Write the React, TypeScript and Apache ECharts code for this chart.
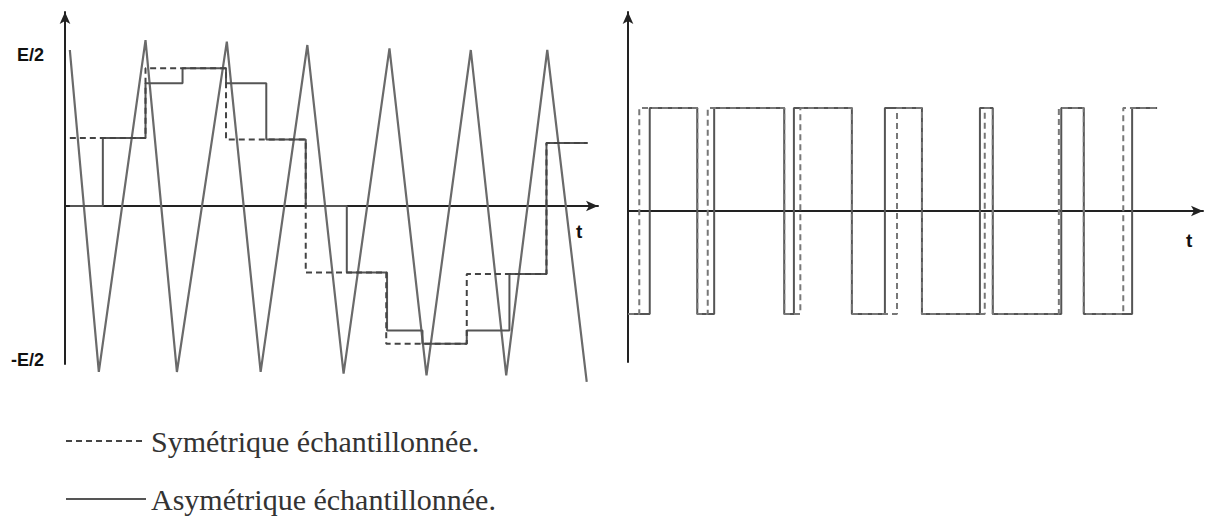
import React, { useEffect, useRef } from "react";
import * as echarts from "echarts";

// ---- Left panel: triangular carrier (t in carrier periods, value in units of E/2-ish) ----
const carrierT = [0.06, 0.42, 1.0, 1.39, 2.01, 2.43, 3.01, 3.46, 4.03, 4.49, 5.04, 5.48, 5.99, 6.48];
const carrierV = [0.94, -1.0, 1.0, -1.0, 0.99, -1.0, 0.97, -1.01, 0.95, -1.02, 0.94, -1.02, 0.94, -1.06];

// Symmetric sampled reference (dashed) – level starting at each t
const symT = [0.06, 1.0, 2.0, 2.99, 3.99, 4.99, 5.98, 6.49];
const symV = [0.41, 0.83, 0.4, -0.4, -0.83, -0.41, 0.38, 0.38];

// Asymmetric sampled reference (solid)
const asymT = [0.06, 0.47, 1.0, 1.46, 2.0, 2.5, 2.99, 3.5, 4.0, 4.44, 4.99, 5.52, 5.98, 6.49];
const asymV = [0, 0.41, 0.74, 0.83, 0.74, 0.4, 0, -0.4, -0.75, -0.83, -0.75, -0.41, 0.38, 0.38];

// ---- Right panel: PWM outputs ----
const pwmAsymT = [0, 0.27, 0.86, 1.07, 1.94, 2.06, 2.78, 3.19, 3.65, 4.37, 4.53, 5.38, 5.66, 6.26, 6.57];
const pwmAsymV = [-1, 1, -1, 1, -1, 1, -1, 1, -1, 1, -1, 1, -1, 1, 1];
const pwmSymT = [0, 0.14, 0.86, 0.99, 1.94, 2.14, 2.78, 3.34, 3.65, 4.43, 4.53, 5.35, 5.66, 6.15, 6.57];
const pwmSymV = [-1, 1, -1, 1, -1, 1, -1, 1, -1, 1, -1, 1, -1, 1, 1];

// Y tick labels of the left panel
const yTickValues = [0.91, -0.93];
const yTickLabels = ["E/2", "-E/2"];

const SYM = "Symétrique échantillonnée.";
const ASYM = "Asymétrique échantillonnée.";

const zip = (a: number[], b: number[]) => a.map((v, i) => [v, b[i]]);

export default function App() {
  const ref = useRef<HTMLDivElement>(null);
  useEffect(() => {
    if (!ref.current) return;
    const chart = echarts.init(ref.current, null, { renderer: "svg" });
    const axisColor = "#222";
    const xAxisCommon = {
      type: "value",
      min: 0,
      axisLine: {
        show: true,
        onZero: true,
        symbol: ["none", "arrow"],
        symbolSize: [8, 12],
        lineStyle: { color: axisColor, width: 2 },
      },
      axisTick: { show: false },
      axisLabel: { show: false },
      splitLine: { show: false },
      name: "t",
      nameLocation: "end",
      nameTextStyle: {
        fontFamily: "Liberation Sans",
        fontWeight: "bold",
        fontSize: 19,
        color: "#111",
        verticalAlign: "top",
      },
    };
    const yAxisCommon = {
      type: "value",
      axisLine: {
        show: true,
        onZero: false,
        symbol: ["none", "arrow"],
        symbolSize: [8, 12],
        lineStyle: { color: axisColor, width: 2 },
      },
      axisTick: { show: false },
      splitLine: { show: false },
    };
    const stepLine = (color: string, dashed: boolean) => ({
      color,
      width: 2,
      type: dashed ? [6, 4] : "solid",
    });
    chart.setOption({
      animation: false,
      backgroundColor: "#fff",
      grid: [
        { left: 65, top: 12, width: 533, height: 352 },
        { left: 628, top: 12, width: 575, height: 350 },
      ],
      xAxis: [
        { ...xAxisCommon, gridIndex: 0, max: 6.62, nameGap: -22, nameTextStyle: { ...xAxisCommon.nameTextStyle, padding: [16, 0, 0, 0] } },
        { ...xAxisCommon, gridIndex: 1, max: 7.14, nameGap: -17, nameTextStyle: { ...xAxisCommon.nameTextStyle, padding: [20, 0, 0, 0] } },
      ],
      yAxis: [
        {
          ...yAxisCommon,
          gridIndex: 0,
          min: -0.952,
          max: 1.169,
          axisLabel: {
            show: true,
            customValues: yTickValues,
            margin: 21,
            fontFamily: "Liberation Sans",
            fontWeight: "bold",
            fontSize: 18,
            color: "#111",
            formatter: (v: number) => {
              const i = yTickValues.findIndex((x) => Math.abs(x - v) < 1e-6);
              return i >= 0 ? yTickLabels[i] : "";
            },
          },
        },
        {
          ...yAxisCommon,
          gridIndex: 1,
          min: -1.466,
          max: 1.932,
          axisLabel: { show: false },
        },
      ],
      legend: {
        data: [SYM, ASYM],
        orient: "vertical",
        left: 60,
        top: 421,
        itemWidth: 80,
        itemHeight: 14,
        itemGap: 28,
        itemStyle: { opacity: 0 },
        textStyle: {
          fontFamily: "Liberation Serif",
          fontSize: 30,
          color: "#333",
          lineHeight: 30,
        },
      },
      series: [
        {
          name: "Porteuse",
          type: "line",
          xAxisIndex: 0,
          yAxisIndex: 0,
          data: zip(carrierT, carrierV),
          symbol: "none",
          clip: false,
          lineStyle: { color: "#6a6a6a", width: 2.2 },
          itemStyle: { color: "#6a6a6a" },
          z: 2,
        },
        {
          name: ASYM,
          type: "line",
          step: "end",
          xAxisIndex: 0,
          yAxisIndex: 0,
          data: zip(asymT, asymV),
          symbol: "none",
          clip: false,
          lineStyle: stepLine("#555", false),
          itemStyle: { color: "#555" },
          z: 3,
        },
        {
          name: SYM,
          type: "line",
          step: "end",
          xAxisIndex: 0,
          yAxisIndex: 0,
          data: zip(symT, symV),
          symbol: "none",
          clip: false,
          lineStyle: stepLine("#444", true),
          itemStyle: { color: "#444" },
          z: 4,
        },
        {
          name: ASYM,
          type: "line",
          step: "end",
          xAxisIndex: 1,
          yAxisIndex: 1,
          data: zip(pwmAsymT, pwmAsymV),
          symbol: "none",
          clip: false,
          lineStyle: stepLine("#555", false),
          itemStyle: { color: "#555" },
          z: 3,
        },
        {
          name: SYM,
          type: "line",
          step: "end",
          xAxisIndex: 1,
          yAxisIndex: 1,
          data: zip(pwmSymT, pwmSymV),
          symbol: "none",
          clip: false,
          lineStyle: stepLine("#777", true),
          itemStyle: { color: "#777" },
          z: 4,
        },
      ],
    });
    return () => chart.dispose();
  }, []);
  return (
    <div
      ref={ref}
      style={{ position: "absolute", left: 0, top: 0, width: 1206, height: 520, background: "#fff" }}
    />
  );
}
